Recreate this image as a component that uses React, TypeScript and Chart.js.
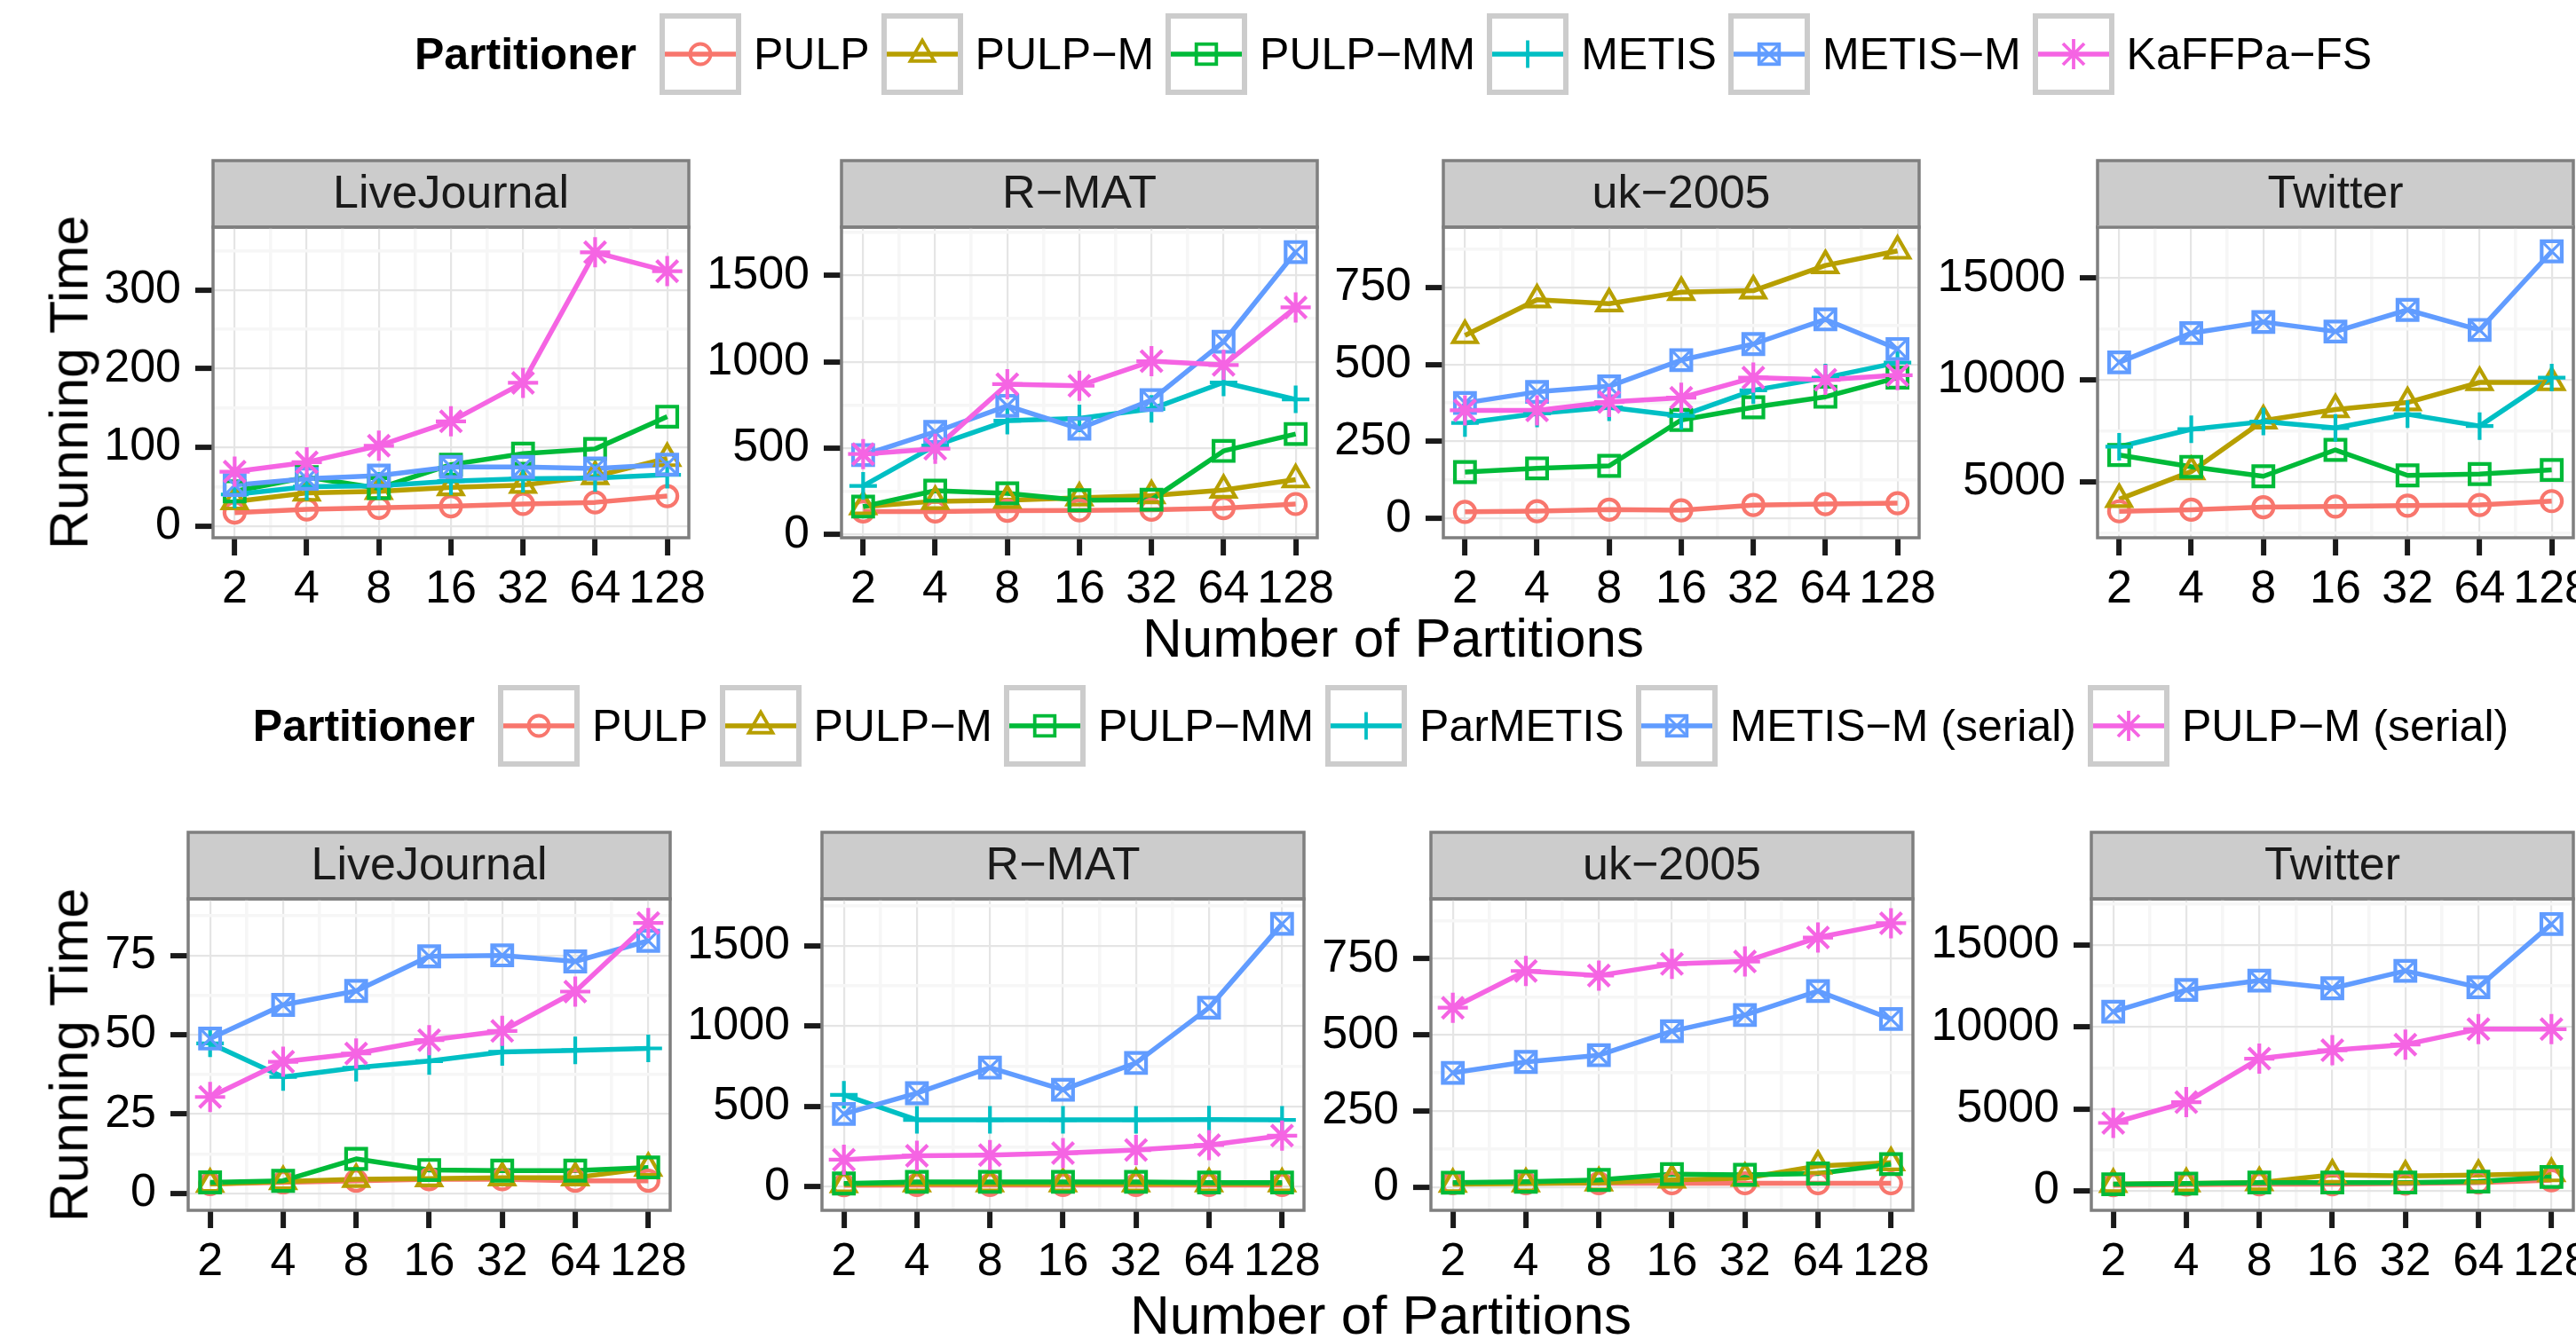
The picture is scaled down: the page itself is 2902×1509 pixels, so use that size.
import React, { useEffect, useRef } from 'react';
import { Chart, registerables } from 'chart.js';

Chart.register(...registerables);

const FONT = "'Liberation Sans', Arial, Helvetica, sans-serif";

// ---------- categories & labels ----------
const partitions = ['2', '4', '8', '16', '32', '64', '128'];
const graphs = ['LiveJournal', 'R−MAT', 'uk−2005', 'Twitter'];
const topSeriesNames = ['PULP', 'PULP−M', 'PULP−MM', 'METIS', 'METIS−M', 'KaFFPa−FS'];
const bottomSeriesNames = ['PULP', 'PULP−M', 'PULP−MM', 'ParMETIS', 'METIS−M (serial)', 'PULP−M (serial)'];

// ---------- top row values (series order as in legend) ----------
const topLiveJournal = [
  [17, 21, 23, 25, 28, 30, 38],
  [31, 42, 44, 49, 52, 63, 86],
  [44, 62, 48, 78, 92, 98, 139],
  [40, 50, 51, 57, 60, 61, 65],
  [52, 60, 64, 75, 75, 73, 78],
  [69, 81, 102, 133, 182, 348, 324],
];
const topRMAT = [
  [134, 134, 138, 140, 144, 153, 177],
  [162, 193, 199, 213, 226, 258, 318],
  [162, 254, 239, 199, 202, 484, 582],
  [282, 515, 659, 672, 727, 880, 782],
  [460, 594, 745, 613, 778, 1115, 1634],
  [466, 497, 870, 861, 1003, 981, 1314],
];
const topUK2005 = [
  [22, 24, 29, 27, 44, 47, 50],
  [594, 710, 697, 734, 739, 821, 868],
  [151, 163, 171, 320, 361, 395, 457],
  [310, 341, 361, 333, 416, 457, 506],
  [375, 411, 429, 514, 566, 646, 550],
  [351, 351, 378, 392, 457, 450, 465],
];
const topTwitter = [
  [3547, 3625, 3750, 3781, 3828, 3860, 4047],
  [4140, 5500, 8000, 8547, 8890, 9875, 9875],
  [6312, 5734, 5266, 6562, 5312, 5375, 5578],
  [6718, 7578, 7953, 7640, 8312, 7734, 10110],
  [10860, 12297, 12844, 12375, 13437, 12453, 16312],
  null,
];

// ---------- bottom row values ----------
const bottomLiveJournal = [
  [3, 3.5, 4, 4.5, 4.5, 4, 4],
  [3, 3.8, 4.5, 4.7, 5, 5, 8],
  [3.5, 4, 10.9, 7.4, 7.2, 7.2, 8.2],
  [47.3, 36.7, 39.6, 41.7, 44.6, 45.1, 45.7],
  [48.8, 59.4, 63.8, 74.7, 75, 73.1, 79.6],
  [30.4, 41.5, 44.1, 48.3, 51.2, 63.6, 85.2],
];
const bottomRMAT = [
  [10, 12, 12, 12, 12, 12, 12],
  [15, 20, 20, 20, 20, 20, 20],
  [21, 31, 31, 31, 31, 27, 27],
  [573, 417, 417, 417, 417, 419, 417],
  [454, 583, 742, 604, 771, 1115, 1637],
  [169, 194, 198, 210, 229, 260, 319],
];
const bottomUK2005 = [
  [12, 12, 12, 12, 12, 12, 12],
  [9, 11, 14, 23, 29, 69, 80],
  [14, 17, 23, 42, 40, 44, 75],
  null,
  [375, 411, 433, 512, 565, 644, 552],
  [589, 710, 695, 733, 741, 820, 867],
];
const bottomTwitter = [
  [347, 388, 408, 408, 449, 510, 653],
  [408, 449, 510, 980, 918, 959, 1061],
  [408, 449, 510, 510, 510, 571, 850],
  null,
  [10918, 12245, 12816, 12347, 13408, 12408, 16265],
  [4143, 5408, 8061, 8571, 8918, 9857, 9857],
];

// ---------- axis ranges & tick labels ----------
const topRanges = [[-15, 380], [-18, 1778], [-62, 945], [2250, 17500]];
const bottomRanges = [[-5.3, 92.8], [-146, 1792], [-77, 947], [-1184, 17796]];
const topTicks = [[0, 100, 200, 300], [0, 500, 1000, 1500], [0, 250, 500, 750], [5000, 10000, 15000]];
const bottomTicks = [[0, 25, 50, 75], [0, 500, 1000, 1500], [0, 250, 500, 750], [0, 5000, 10000, 15000]];

// ---------- styles ----------
const seriesColors = ['#F8766D', '#B79F00', '#00BA38', '#00BFC4', '#619CFF', '#F564E3'];
const seriesPointStyles = ['circle', 'triangle', 'rect', 'cross', 'rect', 'star'];
const seriesPointRadii = [11.5, 15.5, 16, 15.5, 16, 17];
const LINE_W = 5.5;
const MARKER_W = 4.2;
const TICK_FONT = 52;

// ---------- layout ----------
const topLefts = [240, 948, 1626, 2363];
const bottomLefts = [212, 926, 1612, 2356];
const TOP_W = 536;
const BOTTOM_W = 543;
const TOP_STRIP_TOP = 181;
const BOTTOM_STRIP_TOP = 938;
const TOP_PANEL_H = 350;
const BOTTOM_PANEL_H = 351;
const STRIP_H = 75;
const STRIP_OFF = 5;
const Y_AXIS_W = 200;
const X_AXIS_H = 110;
const PAD_R = 60;

const xMajor = [1, 2, 3, 4, 5, 6, 7];
const xMinor = [1.5, 2.5, 3.5, 4.5, 5.5, 6.5];

function minorTicks(majors, range) {
  const step = majors[1] - majors[0];
  const out = [];
  for (let k = Math.floor(range[0] / step) - 1; k <= Math.ceil(range[1] / step) + 1; k++) {
    const v = (k + 0.5) * step;
    if (v >= range[0] && v <= range[1]) out.push(v);
  }
  return out;
}

function buildDatasets(rows) {
  const items = [];
  rows.forEach((vals, i) => {
    if (!vals) return;
    items.push({
      data: vals.map((v, j) => ({ x: j + 1, y: v })),
      borderColor: seriesColors[i],
      borderWidth: LINE_W,
      borderJoinStyle: 'round',
      pointRadius: 0,
      showLine: true,
      fill: false,
    });
  });
  rows.forEach((vals, i) => {
    if (!vals) return;
    const pts = vals.map((v, j) => ({ x: j + 1, y: v }));
    items.push({
      data: pts,
      showLine: false,
      borderColor: seriesColors[i],
      pointStyle: seriesPointStyles[i],
      pointRadius: seriesPointRadii[i],
      pointBorderWidth: MARKER_W,
      pointBorderColor: seriesColors[i],
      pointBackgroundColor: 'rgba(0,0,0,0)',
    });
    if (i === 4) {
      items.push({
        data: pts,
        showLine: false,
        borderColor: seriesColors[i],
        pointStyle: 'crossRot',
        pointRadius: seriesPointRadii[i],
        pointBorderWidth: 3.2,
        pointBorderColor: seriesColors[i],
        pointBackgroundColor: 'rgba(0,0,0,0)',
      });
    }
  });
  const n = items.length;
  return items.map((d, k) => ({ ...d, order: n - k }));
}

function makePanelPlugin(title) {
  return {
    id: 'panelDeco',
    beforeDraw(chart) {
      const { ctx, chartArea: a } = chart;
      ctx.save();
      ctx.fillStyle = '#ffffff';
      ctx.fillRect(a.left, a.top, a.right - a.left, a.bottom - a.top);
      const sTop = STRIP_OFF;
      const sH = a.top - sTop;
      ctx.fillStyle = '#cccccc';
      ctx.fillRect(a.left, sTop, a.right - a.left, sH);
      ctx.strokeStyle = '#7f7f7f';
      ctx.lineWidth = 3.5;
      ctx.strokeRect(a.left, sTop, a.right - a.left, sH);
      ctx.fillStyle = '#1a1a1a';
      ctx.font = `52px ${FONT}`;
      ctx.textAlign = 'center';
      ctx.textBaseline = 'middle';
      ctx.fillText(title, (a.left + a.right) / 2, sTop + sH / 2 + 1);
      ctx.restore();
    },
    afterDatasetsDraw(chart) {
      const { ctx, chartArea: a } = chart;
      ctx.save();
      ctx.strokeStyle = '#7f7f7f';
      ctx.lineWidth = 3.5;
      ctx.strokeRect(a.left, a.top, a.right - a.left, a.bottom - a.top);
      ctx.restore();
    },
  };
}

function Panel({ title, rows, range, majors, left, stripTop, width, panelH }) {
  const ref = useRef(null);
  const cw = Y_AXIS_W + width + PAD_R;
  const ch = STRIP_OFF + STRIP_H + panelH + X_AXIS_H;
  useEffect(() => {
    const canvas = ref.current;
    const minors = minorTicks(majors, range);
    const yTickValues = [...majors, ...minors].sort((a, b) => a - b);
    const xTickValues = [...xMajor, ...xMinor].sort((a, b) => a - b);
    const isXMajor = (v) => Number.isInteger(v);
    const isYMajor = (v) => majors.includes(v);
    const chart = new Chart(canvas, {
      type: 'line',
      data: { datasets: buildDatasets(rows) },
      options: {
        animation: false,
        responsive: false,
        devicePixelRatio: 1,
        events: [],
        layout: { padding: { top: STRIP_OFF + STRIP_H, right: PAD_R, left: 0, bottom: 0 } },
        plugins: { legend: { display: false }, tooltip: { enabled: false }, title: { display: false } },
        scales: {
          x: {
            type: 'linear',
            min: 0.7,
            max: 7.3,
            afterBuildTicks: (s) => {
              s.ticks = xTickValues.map((v) => ({ value: v }));
            },
            afterFit: (s) => {
              s.height = X_AXIS_H;
            },
            ticks: {
              autoSkip: false,
              maxRotation: 0,
              minRotation: 0,
              padding: 7,
              color: '#000000',
              font: { family: FONT, size: TICK_FONT },
              callback: (v) => (isXMajor(v) ? partitions[v - 1] : ''),
            },
            grid: {
              color: (c) => (c.tick && isXMajor(c.tick.value) ? '#e5e5e5' : '#f6f6f6'),
              lineWidth: (c) => (c.tick && isXMajor(c.tick.value) ? 2.2 : 3.5),
              tickColor: (c) => (c.tick && isXMajor(c.tick.value) ? '#1a1a1a' : 'rgba(0,0,0,0)'),
              tickWidth: 6,
              tickLength: 20,
              drawTicks: true,
            },
            border: { display: false },
          },
          y: {
            type: 'linear',
            min: range[0],
            max: range[1],
            afterBuildTicks: (s) => {
              s.ticks = yTickValues.map((v) => ({ value: v }));
            },
            afterFit: (s) => {
              s.width = Y_AXIS_W;
            },
            ticks: {
              autoSkip: false,
              padding: 16,
              color: '#000000',
              font: { family: FONT, size: TICK_FONT },
              callback: (v) => (isYMajor(v) ? String(v) : ''),
            },
            grid: {
              color: (c) => (c.tick && isYMajor(c.tick.value) ? '#e5e5e5' : '#f6f6f6'),
              lineWidth: (c) => (c.tick && isYMajor(c.tick.value) ? 2.2 : 3.5),
              tickColor: (c) => (c.tick && isYMajor(c.tick.value) ? '#1a1a1a' : 'rgba(0,0,0,0)'),
              tickWidth: 6,
              tickLength: 20,
              drawTicks: true,
            },
            border: { display: false },
          },
        },
      },
      plugins: [makePanelPlugin(title)],
    });
    return () => chart.destroy();
  }, []);
  return (
    <canvas
      ref={ref}
      width={cw}
      height={ch}
      style={{
        position: 'absolute',
        left: left - Y_AXIS_W,
        top: stripTop - STRIP_OFF,
        width: cw,
        height: ch,
        display: 'block',
      }}
    />
  );
}

function LegendKey({ idx }) {
  const c = seriesColors[idx];
  const S = 92;
  const cx = S / 2;
  const cy = S / 2;
  const sw = 3.8;
  let marker = null;
  if (idx === 0) {
    marker = <circle cx={cx} cy={cy} r={11.5} fill="none" stroke={c} strokeWidth={sw} />;
  } else if (idx === 1) {
    const r = 15.5;
    const pts = [0, 120, 240]
      .map((a) => `${cx + r * Math.sin((a * Math.PI) / 180)},${cy - r * Math.cos((a * Math.PI) / 180)}`)
      .join(' ');
    marker = <polygon points={pts} fill="none" stroke={c} strokeWidth={sw} />;
  } else if (idx === 2 || idx === 4) {
    const h = 11.3;
    marker = (
      <g fill="none" stroke={c} strokeWidth={sw}>
        <rect x={cx - h} y={cy - h} width={2 * h} height={2 * h} />
        {idx === 4 ? (
          <>
            <line x1={cx - h} y1={cy - h} x2={cx + h} y2={cy + h} strokeWidth={3} />
            <line x1={cx - h} y1={cy + h} x2={cx + h} y2={cy - h} strokeWidth={3} />
          </>
        ) : null}
      </g>
    );
  } else if (idx === 3) {
    const r = 15.5;
    marker = (
      <g stroke={c} strokeWidth={sw}>
        <line x1={cx - r} y1={cy} x2={cx + r} y2={cy} />
        <line x1={cx} y1={cy - r} x2={cx} y2={cy + r} />
      </g>
    );
  } else {
    const r = 17;
    marker = (
      <g stroke={c} strokeWidth={sw}>
        {[0, 45, 90, 135].map((a) => {
          const dx = r * Math.cos((a * Math.PI) / 180);
          const dy = r * Math.sin((a * Math.PI) / 180);
          return <line key={a} x1={cx - dx} y1={cy - dy} x2={cx + dx} y2={cy + dy} />;
        })}
      </g>
    );
  }
  return (
    <svg width={S} height={S} style={{ flexShrink: 0, display: 'block' }}>
      <rect x={3} y={3} width={S - 6} height={S - 6} fill="#ffffff" stroke="#cccccc" strokeWidth={6} />
      <line x1={6} y1={cy} x2={S - 6} y2={cy} stroke={c} strokeWidth={LINE_W} />
      {marker}
    </svg>
  );
}

function Legend({ names, left, right, cy }) {
  return (
    <div
      style={{
        position: 'absolute',
        left,
        width: right - left,
        top: cy - 46,
        height: 92,
        display: 'flex',
        alignItems: 'center',
        justifyContent: 'center',
        whiteSpace: 'nowrap',
        fontFamily: FONT,
        fontSize: 50,
        lineHeight: '60px',
        color: '#000',
      }}
    >
      <span style={{ fontWeight: 'bold', marginRight: 26, flexShrink: 0 }}>Partitioner</span>
      {names.map((n, i) => (
        <React.Fragment key={n}>
          <LegendKey idx={i} />
          <span style={{ marginLeft: 14, marginRight: i < names.length - 1 ? 13 : 0, flexShrink: 0 }}>{n}</span>
        </React.Fragment>
      ))}
    </div>
  );
}

function AxisTitle({ text, x, y, rotate, size }) {
  return (
    <div
      style={{
        position: 'absolute',
        left: x,
        top: y,
        width: 'max-content',
        transform: `translate(-50%, -50%)${rotate ? ' rotate(-90deg)' : ''}`,
        fontFamily: FONT,
        fontSize: size,
        lineHeight: `${size}px`,
        whiteSpace: 'nowrap',
        color: '#000',
      }}
    >
      {text}
    </div>
  );
}

const topRows = [topLiveJournal, topRMAT, topUK2005, topTwitter];
const bottomRows = [bottomLiveJournal, bottomRMAT, bottomUK2005, bottomTwitter];

export default function App() {
  return (
    <div
      style={{
        position: 'fixed',
        left: 0,
        top: 0,
        width: 2902,
        height: 1509,
        overflow: 'hidden',
        background: '#ffffff',
      }}
    >
      <Legend names={topSeriesNames} left={240} right={2899} cy={61} />
      {graphs.map((g, i) => (
        <Panel
          key={'t' + i}
          title={g}
          rows={topRows[i]}
          range={topRanges[i]}
          majors={topTicks[i]}
          left={topLefts[i]}
          stripTop={TOP_STRIP_TOP}
          width={TOP_W}
          panelH={TOP_PANEL_H}
        />
      ))}
      <AxisTitle text="Running Time" x={77.5} y={TOP_STRIP_TOP + STRIP_H + TOP_PANEL_H / 2} rotate size={61} />
      <AxisTitle text="Number of Partitions" x={(240 + 2899) / 2} y={719} size={62} />

      <Legend names={bottomSeriesNames} left={212} right={2899} cy={818} />
      {graphs.map((g, i) => (
        <Panel
          key={'b' + i}
          title={g}
          rows={bottomRows[i]}
          range={bottomRanges[i]}
          majors={bottomTicks[i]}
          left={bottomLefts[i]}
          stripTop={BOTTOM_STRIP_TOP}
          width={BOTTOM_W}
          panelH={BOTTOM_PANEL_H}
        />
      ))}
      <AxisTitle text="Running Time" x={77.5} y={BOTTOM_STRIP_TOP + STRIP_H + BOTTOM_PANEL_H / 2} rotate size={61} />
      <AxisTitle text="Number of Partitions" x={(212 + 2899) / 2} y={1482} size={62} />
    </div>
  );
}
